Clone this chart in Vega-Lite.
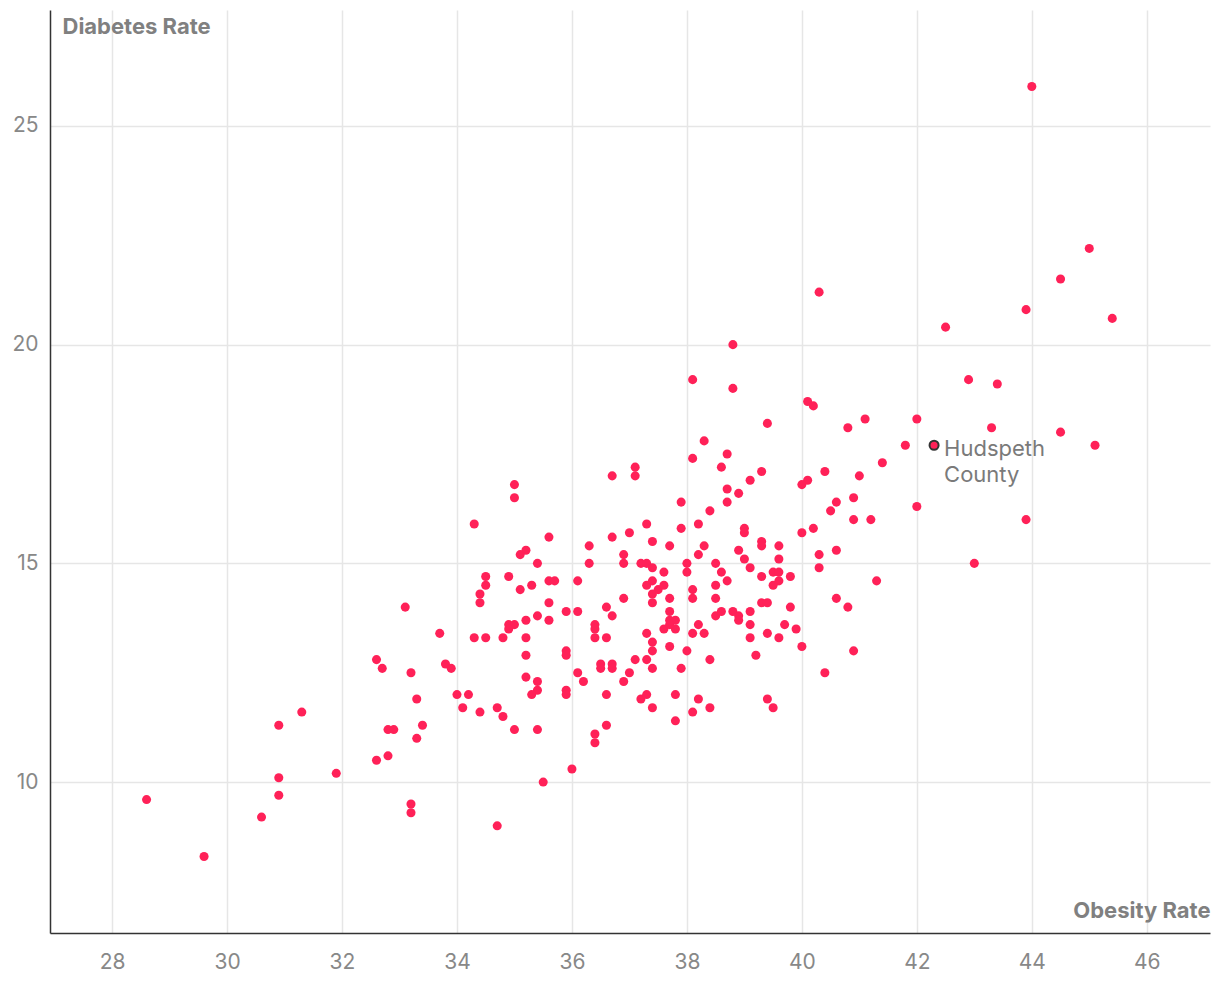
{
  "$schema": "https://vega.github.io/schema/vega-lite/v6.json",
  "width": 1160,
  "height": 923,
  "autosize": {"type": "none"},
  "padding": {"left": 50, "top": 10, "right": 10, "bottom": 73},
  "background": "white",
  "config": {
    "view": {"stroke": null},
    "font": "Inter",
    "axis": {
      "labelFont": "Inter",
      "titleFont": "Inter",
      "labelFontSize": 21,
      "labelColor": "#888888",
      "titleColor": "#808080",
      "titleFontSize": 22,
      "titleFontWeight": "bold",
      "gridColor": "#e6e6e6",
      "gridWidth": 1.5,
      "domainColor": "#333333",
      "domainWidth": 1.5,
      "ticks": false
    }
  },
  "data": {
    "values": [
      {"obesity": 44.0, "diabetes": 25.9},
      {"obesity": 45.0, "diabetes": 22.2},
      {"obesity": 44.5, "diabetes": 21.5},
      {"obesity": 40.3, "diabetes": 21.2},
      {"obesity": 45.4, "diabetes": 20.6},
      {"obesity": 43.9, "diabetes": 20.8},
      {"obesity": 42.5, "diabetes": 20.4},
      {"obesity": 38.8, "diabetes": 20.0},
      {"obesity": 38.1, "diabetes": 19.2},
      {"obesity": 38.8, "diabetes": 19.0},
      {"obesity": 42.9, "diabetes": 19.2},
      {"obesity": 43.4, "diabetes": 19.1},
      {"obesity": 40.1, "diabetes": 18.7},
      {"obesity": 40.2, "diabetes": 18.6},
      {"obesity": 39.4, "diabetes": 18.2},
      {"obesity": 41.1, "diabetes": 18.3},
      {"obesity": 42.0, "diabetes": 18.3},
      {"obesity": 40.8, "diabetes": 18.1},
      {"obesity": 43.3, "diabetes": 18.1},
      {"obesity": 38.3, "diabetes": 17.8},
      {"obesity": 41.8, "diabetes": 17.7},
      {"obesity": 45.1, "diabetes": 17.7},
      {"obesity": 44.5, "diabetes": 18.0},
      {"obesity": 38.7, "diabetes": 17.5},
      {"obesity": 38.1, "diabetes": 17.4},
      {"obesity": 41.4, "diabetes": 17.3},
      {"obesity": 37.1, "diabetes": 17.2},
      {"obesity": 38.6, "diabetes": 17.2},
      {"obesity": 39.3, "diabetes": 17.1},
      {"obesity": 40.4, "diabetes": 17.1},
      {"obesity": 37.1, "diabetes": 17.0},
      {"obesity": 36.7, "diabetes": 17.0},
      {"obesity": 41.0, "diabetes": 17.0},
      {"obesity": 39.1, "diabetes": 16.9},
      {"obesity": 40.1, "diabetes": 16.9},
      {"obesity": 40.0, "diabetes": 16.8},
      {"obesity": 35.0, "diabetes": 16.8},
      {"obesity": 38.7, "diabetes": 16.7},
      {"obesity": 38.9, "diabetes": 16.6},
      {"obesity": 40.6, "diabetes": 16.4},
      {"obesity": 37.9, "diabetes": 16.4},
      {"obesity": 38.7, "diabetes": 16.4},
      {"obesity": 35.0, "diabetes": 16.5},
      {"obesity": 40.9, "diabetes": 16.5},
      {"obesity": 42.0, "diabetes": 16.3},
      {"obesity": 40.5, "diabetes": 16.2},
      {"obesity": 38.4, "diabetes": 16.2},
      {"obesity": 43.9, "diabetes": 16.0},
      {"obesity": 40.9, "diabetes": 16.0},
      {"obesity": 41.2, "diabetes": 16.0},
      {"obesity": 34.3, "diabetes": 15.9},
      {"obesity": 37.3, "diabetes": 15.9},
      {"obesity": 38.2, "diabetes": 15.9},
      {"obesity": 37.9, "diabetes": 15.8},
      {"obesity": 35.6, "diabetes": 15.6},
      {"obesity": 35.2, "diabetes": 15.3},
      {"obesity": 35.1, "diabetes": 15.2},
      {"obesity": 36.7, "diabetes": 15.6},
      {"obesity": 37.0, "diabetes": 15.7},
      {"obesity": 36.3, "diabetes": 15.4},
      {"obesity": 37.4, "diabetes": 15.5},
      {"obesity": 37.7, "diabetes": 15.4},
      {"obesity": 36.9, "diabetes": 15.2},
      {"obesity": 38.3, "diabetes": 15.4},
      {"obesity": 38.2, "diabetes": 15.2},
      {"obesity": 39.0, "diabetes": 15.8},
      {"obesity": 39.0, "diabetes": 15.7},
      {"obesity": 38.9, "diabetes": 15.3},
      {"obesity": 39.3, "diabetes": 15.5},
      {"obesity": 39.3, "diabetes": 15.4},
      {"obesity": 39.6, "diabetes": 15.4},
      {"obesity": 40.0, "diabetes": 15.7},
      {"obesity": 40.2, "diabetes": 15.8},
      {"obesity": 39.0, "diabetes": 15.1},
      {"obesity": 39.6, "diabetes": 15.1},
      {"obesity": 40.3, "diabetes": 15.2},
      {"obesity": 40.6, "diabetes": 15.3},
      {"obesity": 43.0, "diabetes": 15.0},
      {"obesity": 35.4, "diabetes": 15.0},
      {"obesity": 34.5, "diabetes": 14.7},
      {"obesity": 34.5, "diabetes": 14.5},
      {"obesity": 34.9, "diabetes": 14.7},
      {"obesity": 34.4, "diabetes": 14.3},
      {"obesity": 34.4, "diabetes": 14.1},
      {"obesity": 35.1, "diabetes": 14.4},
      {"obesity": 35.3, "diabetes": 14.5},
      {"obesity": 35.6, "diabetes": 14.6},
      {"obesity": 35.7, "diabetes": 14.6},
      {"obesity": 36.1, "diabetes": 14.6},
      {"obesity": 33.1, "diabetes": 14.0},
      {"obesity": 35.6, "diabetes": 14.1},
      {"obesity": 35.9, "diabetes": 13.9},
      {"obesity": 36.1, "diabetes": 13.9},
      {"obesity": 35.4, "diabetes": 13.8},
      {"obesity": 35.6, "diabetes": 13.7},
      {"obesity": 35.2, "diabetes": 13.7},
      {"obesity": 34.9, "diabetes": 13.6},
      {"obesity": 35.0, "diabetes": 13.6},
      {"obesity": 34.9, "diabetes": 13.5},
      {"obesity": 33.7, "diabetes": 13.4},
      {"obesity": 34.3, "diabetes": 13.3},
      {"obesity": 34.5, "diabetes": 13.3},
      {"obesity": 34.8, "diabetes": 13.3},
      {"obesity": 35.2, "diabetes": 13.3},
      {"obesity": 35.2, "diabetes": 12.9},
      {"obesity": 35.9, "diabetes": 13.0},
      {"obesity": 35.9, "diabetes": 12.9},
      {"obesity": 32.6, "diabetes": 12.8},
      {"obesity": 32.7, "diabetes": 12.6},
      {"obesity": 33.2, "diabetes": 12.5},
      {"obesity": 33.8, "diabetes": 12.7},
      {"obesity": 33.9, "diabetes": 12.6},
      {"obesity": 35.2, "diabetes": 12.4},
      {"obesity": 35.4, "diabetes": 12.3},
      {"obesity": 35.4, "diabetes": 12.1},
      {"obesity": 35.3, "diabetes": 12.0},
      {"obesity": 35.9, "diabetes": 12.1},
      {"obesity": 35.9, "diabetes": 12.0},
      {"obesity": 36.1, "diabetes": 12.5},
      {"obesity": 33.3, "diabetes": 11.9},
      {"obesity": 34.0, "diabetes": 12.0},
      {"obesity": 34.2, "diabetes": 12.0},
      {"obesity": 34.1, "diabetes": 11.7},
      {"obesity": 34.4, "diabetes": 11.6},
      {"obesity": 34.7, "diabetes": 11.7},
      {"obesity": 34.8, "diabetes": 11.5},
      {"obesity": 33.4, "diabetes": 11.3},
      {"obesity": 32.8, "diabetes": 11.2},
      {"obesity": 32.9, "diabetes": 11.2},
      {"obesity": 33.3, "diabetes": 11.0},
      {"obesity": 35.0, "diabetes": 11.2},
      {"obesity": 35.4, "diabetes": 11.2},
      {"obesity": 32.8, "diabetes": 10.6},
      {"obesity": 32.6, "diabetes": 10.5},
      {"obesity": 36.0, "diabetes": 10.3},
      {"obesity": 35.5, "diabetes": 10.0},
      {"obesity": 33.2, "diabetes": 9.5},
      {"obesity": 33.2, "diabetes": 9.3},
      {"obesity": 34.7, "diabetes": 9.0},
      {"obesity": 31.3, "diabetes": 11.6},
      {"obesity": 30.9, "diabetes": 11.3},
      {"obesity": 31.9, "diabetes": 10.2},
      {"obesity": 30.9, "diabetes": 10.1},
      {"obesity": 30.9, "diabetes": 9.7},
      {"obesity": 28.6, "diabetes": 9.6},
      {"obesity": 30.6, "diabetes": 9.2},
      {"obesity": 29.6, "diabetes": 8.3},
      {"obesity": 36.3, "diabetes": 15.0},
      {"obesity": 36.9, "diabetes": 15.0},
      {"obesity": 37.2, "diabetes": 15.0},
      {"obesity": 37.3, "diabetes": 15.0},
      {"obesity": 37.4, "diabetes": 14.9},
      {"obesity": 37.6, "diabetes": 14.8},
      {"obesity": 38.0, "diabetes": 15.0},
      {"obesity": 38.0, "diabetes": 14.8},
      {"obesity": 38.5, "diabetes": 15.0},
      {"obesity": 38.6, "diabetes": 14.8},
      {"obesity": 38.7, "diabetes": 14.6},
      {"obesity": 39.1, "diabetes": 14.9},
      {"obesity": 39.3, "diabetes": 14.7},
      {"obesity": 39.5, "diabetes": 14.8},
      {"obesity": 39.6, "diabetes": 14.8},
      {"obesity": 39.6, "diabetes": 14.6},
      {"obesity": 39.5, "diabetes": 14.5},
      {"obesity": 39.8, "diabetes": 14.7},
      {"obesity": 38.5, "diabetes": 14.5},
      {"obesity": 38.5, "diabetes": 14.2},
      {"obesity": 38.1, "diabetes": 14.4},
      {"obesity": 38.1, "diabetes": 14.2},
      {"obesity": 37.3, "diabetes": 14.5},
      {"obesity": 37.4, "diabetes": 14.6},
      {"obesity": 37.5, "diabetes": 14.4},
      {"obesity": 37.6, "diabetes": 14.5},
      {"obesity": 37.4, "diabetes": 14.3},
      {"obesity": 37.4, "diabetes": 14.1},
      {"obesity": 37.7, "diabetes": 14.2},
      {"obesity": 36.9, "diabetes": 14.2},
      {"obesity": 36.6, "diabetes": 14.0},
      {"obesity": 36.7, "diabetes": 13.8},
      {"obesity": 36.4, "diabetes": 13.6},
      {"obesity": 36.4, "diabetes": 13.5},
      {"obesity": 36.4, "diabetes": 13.3},
      {"obesity": 36.6, "diabetes": 13.3},
      {"obesity": 37.7, "diabetes": 13.9},
      {"obesity": 37.7, "diabetes": 13.7},
      {"obesity": 37.8, "diabetes": 13.7},
      {"obesity": 37.6, "diabetes": 13.5},
      {"obesity": 37.8, "diabetes": 13.5},
      {"obesity": 37.7, "diabetes": 13.6},
      {"obesity": 37.3, "diabetes": 13.4},
      {"obesity": 37.4, "diabetes": 13.2},
      {"obesity": 37.4, "diabetes": 13.0},
      {"obesity": 37.7, "diabetes": 13.1},
      {"obesity": 38.0, "diabetes": 13.0},
      {"obesity": 38.1, "diabetes": 13.4},
      {"obesity": 38.3, "diabetes": 13.4},
      {"obesity": 38.2, "diabetes": 13.6},
      {"obesity": 38.5, "diabetes": 13.8},
      {"obesity": 38.6, "diabetes": 13.9},
      {"obesity": 38.8, "diabetes": 13.9},
      {"obesity": 38.9, "diabetes": 13.8},
      {"obesity": 38.9, "diabetes": 13.7},
      {"obesity": 39.1, "diabetes": 13.9},
      {"obesity": 39.1, "diabetes": 13.6},
      {"obesity": 39.1, "diabetes": 13.3},
      {"obesity": 39.3, "diabetes": 14.1},
      {"obesity": 39.4, "diabetes": 14.1},
      {"obesity": 39.8, "diabetes": 14.0},
      {"obesity": 39.7, "diabetes": 13.6},
      {"obesity": 39.4, "diabetes": 13.4},
      {"obesity": 39.6, "diabetes": 13.3},
      {"obesity": 39.9, "diabetes": 13.5},
      {"obesity": 40.0, "diabetes": 13.1},
      {"obesity": 39.2, "diabetes": 12.9},
      {"obesity": 38.4, "diabetes": 12.8},
      {"obesity": 37.9, "diabetes": 12.6},
      {"obesity": 37.3, "diabetes": 12.8},
      {"obesity": 37.1, "diabetes": 12.8},
      {"obesity": 37.4, "diabetes": 12.6},
      {"obesity": 36.5, "diabetes": 12.7},
      {"obesity": 36.5, "diabetes": 12.6},
      {"obesity": 36.7, "diabetes": 12.7},
      {"obesity": 36.7, "diabetes": 12.6},
      {"obesity": 37.0, "diabetes": 12.5},
      {"obesity": 36.9, "diabetes": 12.3},
      {"obesity": 36.2, "diabetes": 12.3},
      {"obesity": 36.6, "diabetes": 12.0},
      {"obesity": 37.2, "diabetes": 11.9},
      {"obesity": 37.3, "diabetes": 12.0},
      {"obesity": 37.8, "diabetes": 12.0},
      {"obesity": 38.2, "diabetes": 11.9},
      {"obesity": 39.4, "diabetes": 11.9},
      {"obesity": 37.4, "diabetes": 11.7},
      {"obesity": 36.6, "diabetes": 11.3},
      {"obesity": 36.4, "diabetes": 11.1},
      {"obesity": 36.4, "diabetes": 10.9},
      {"obesity": 37.8, "diabetes": 11.4},
      {"obesity": 38.1, "diabetes": 11.6},
      {"obesity": 38.4, "diabetes": 11.7},
      {"obesity": 39.5, "diabetes": 11.7},
      {"obesity": 40.3, "diabetes": 14.9},
      {"obesity": 41.3, "diabetes": 14.6},
      {"obesity": 40.6, "diabetes": 14.2},
      {"obesity": 40.8, "diabetes": 14.0},
      {"obesity": 40.9, "diabetes": 13.0},
      {"obesity": 40.4, "diabetes": 12.5},
      {"obesity": 42.3, "diabetes": 17.7, "label": "Hudspeth\nCounty"}
    ]
  },
  "encoding": {
    "x": {
      "field": "obesity",
      "type": "quantitative",
      "scale": {"domain": [26.92, 47.1], "nice": false, "zero": false},
      "axis": {
        "values": [28, 30, 32, 34, 36, 38, 40, 42, 44, 46],
        "title": "Obesity Rate",
        "titleX": 1160,
        "titleY": -23,
        "titleAlign": "right",
        "titleBaseline": "middle",
        "labelPadding": 18
      }
    },
    "y": {
      "field": "diabetes",
      "type": "quantitative",
      "scale": {"domain": [6.55, 27.65], "nice": false, "zero": false},
      "axis": {
        "values": [10, 15, 20, 25],
        "title": "Diabetes Rate",
        "titleAngle": 0,
        "titleX": 12,
        "titleY": 16,
        "titleAlign": "left",
        "titleBaseline": "middle",
        "labelPadding": 12
      }
    }
  },
  "layer": [
    {
      "mark": {"type": "point", "filled": true, "color": "#ff2158", "opacity": 1, "size": 82}
    },
    {
      "transform": [{"filter": "datum.label"}],
      "mark": {"type": "point", "filled": true, "color": "#ff2158", "opacity": 1, "size": 82, "stroke": "#333333", "strokeWidth": 2}
    },
    {
      "transform": [{"filter": "datum.label"}],
      "mark": {"type": "text", "align": "left", "baseline": "middle", "dx": 10, "dy": 4, "fontSize": 22, "lineHeight": 26, "lineBreak": "\n", "color": "#7a7a7a", "font": "Inter"},
      "encoding": {"text": {"field": "label"}}
    }
  ]
}
